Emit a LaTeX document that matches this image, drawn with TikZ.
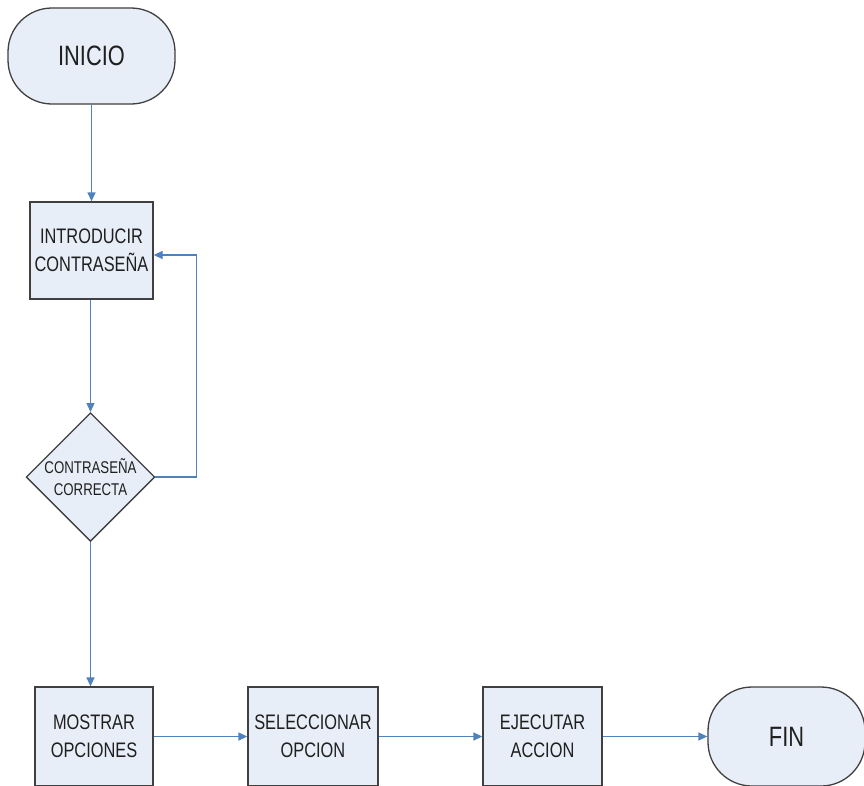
\documentclass[tikz,border=0pt]{standalone}
\usepackage{fontspec}
\setmainfont[FakeStretch=0.78]{Liberation Sans}
\usetikzlibrary{shapes.geometric,arrows.meta}
\definecolor{boxfill}{HTML}{E8EEF8}
\definecolor{boxline}{HTML}{404040}
\definecolor{conn}{HTML}{4F81BD}
\definecolor{txt}{HTML}{1F1F1F}
\begin{document}
\begin{tikzpicture}[x=1pt,y=-1pt,
  base/.style={draw=boxline,fill=boxfill,line width=1.3pt,text=txt,align=center,inner sep=0pt},
  terminal/.style={base,rectangle,rounded corners=44pt,font=\fontsize{28}{32}\selectfont},
  procbox/.style={base,rectangle,font=\fontsize{21}{28}\selectfont},
  decision/.style={base,diamond,minimum width=128pt,minimum height=128pt,font=\fontsize{17}{21.5}\selectfont},
  conline/.style={draw=conn,line width=1.3pt},
  arr/.style={conline,-{Triangle[length=9pt,width=8pt]}}]
\useasboundingbox[fill=white] (0,0) rectangle (864,785);
\node[terminal,minimum width=167pt,minimum height=96pt] (inicio) at (91.5,56) {INICIO};
\node[procbox,minimum width=123pt,minimum height=97pt] (intro) at (91.5,250.5) {INTRODUCIR\\CONTRASEÑA};
\node[decision] (dec) at (90.5,477) {CONTRASEÑA\\CORRECTA};
\node[procbox,minimum width=118pt,minimum height=99pt] (mostrar) at (94,736.5) {MOSTRAR\\OPCIONES};
\node[procbox,minimum width=130pt,minimum height=99pt] (sel) at (313,736.5) {SELECCIONAR\\OPCION};
\node[procbox,minimum width=119pt,minimum height=99pt] (ejec) at (542.5,736.5) {EJECUTAR\\ACCION};
\node[terminal,minimum width=157pt,minimum height=99pt] (fin) at (786.5,736.5) {FIN};
\coordinate (loopin) at ([yshift=-4.5pt]intro.east);
\draw[arr] (inicio) -- (intro);
\draw[arr] (dec.north |- intro.south) -- (dec.north);
\draw[arr] (dec.east) -| ([xshift=43pt]loopin) -- (loopin);
\draw[arr] (dec.south) -- (dec.south |- mostrar.north);
\draw[arr] (mostrar.east) -- (sel.west);
\draw[arr] (sel.east) -- (ejec.west);
\draw[arr] (ejec.east) -- (fin.west);
\end{tikzpicture}
\end{document}
